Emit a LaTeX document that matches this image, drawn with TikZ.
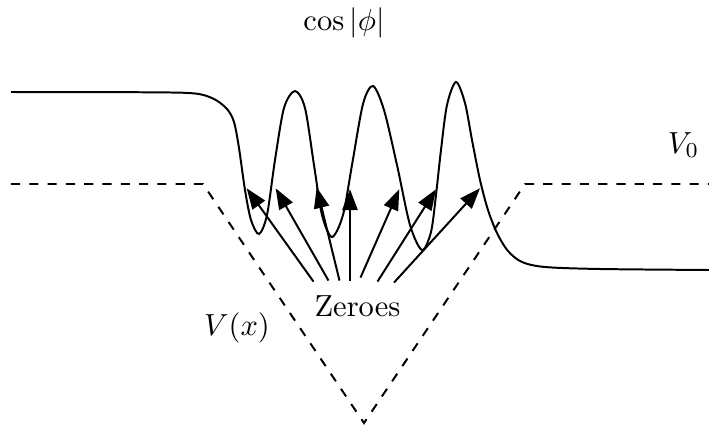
\documentclass[tikz,border=0pt]{standalone}
\usetikzlibrary{arrows.meta,calc}
\tikzset{
  wave/.style={line width=0.65pt},
  potential/.style={line width=0.65pt, dashed},
  zero arrow/.style={line width=0.65pt, -{Triangle[length=6.8pt,width=5pt]}},
  lbl/.style={inner sep=0pt, anchor=base},
}
\begin{document}
\begin{tikzpicture}[x=0.328pt, y=-0.328pt]
\useasboundingbox (0,0) rectangle (709,429);
% potential well
\draw[potential] (11,184) -- (203,184) -- (364,423) -- (525,184) -- (709,184);
% wavefunction
\draw[wave] plot[smooth] coordinates {(11,92) (150,92.3) (195,93.5) (214,99) (227,109) (234,122) (239,148) (245,190) (251,220) (259,234) (267,215) (275,160) (284,108) (295,91) (305,108) (314,165) (322,215) (332,237) (343,215) (352,165) (363,104) (373,86) (384,110) (397,165) (410,225) (422,250) (431,232) (436,195) (441,150) (447,105) (456,82) (465,103) (472,140) (480,180) (488,210) (497,233) (508,251) (522,262) (545,267) (600,269) (709,270)};
% labels
\node[lbl] (coslabel) at (344,30) {$\cos|\phi|$};
\node[lbl] (vzero) at (683.5,153) {$V_0$};
\node[lbl] (vofx) at (237,335.5) {$V(x)$};
\node[lbl] (zeroes) at (357.5,316) {Zeroes};
% zeroes of the wavefunction
\coordinate (z1) at (246.7,188.3);
\coordinate (z2) at (275.7,188.3);
\coordinate (z3) at (316.7,187.3);
\coordinate (z4) at (350,189.3);
\coordinate (z5) at (399.3,189.3);
\coordinate (z6) at (436,189.3);
\coordinate (z7) at (480,188.3);
\draw[zero arrow] ($(zeroes.north)+(-44,-13)$) -- (z1);
\draw[zero arrow] ($(zeroes.north)+(-29,-14)$) -- (z2);
\draw[zero arrow] ($(zeroes.north)+(-18,-14)$) -- (z3);
\draw[zero arrow] ($(zeroes.north)+(-7.5,-14)$) -- (z4);
\draw[zero arrow] ($(zeroes.north)+(3,-17)$) -- (z5);
\draw[zero arrow] ($(zeroes.north)+(20,-13)$) -- (z6);
\draw[zero arrow] ($(zeroes.north)+(36.5,-12)$) -- (z7);
\end{tikzpicture}
\end{document}
